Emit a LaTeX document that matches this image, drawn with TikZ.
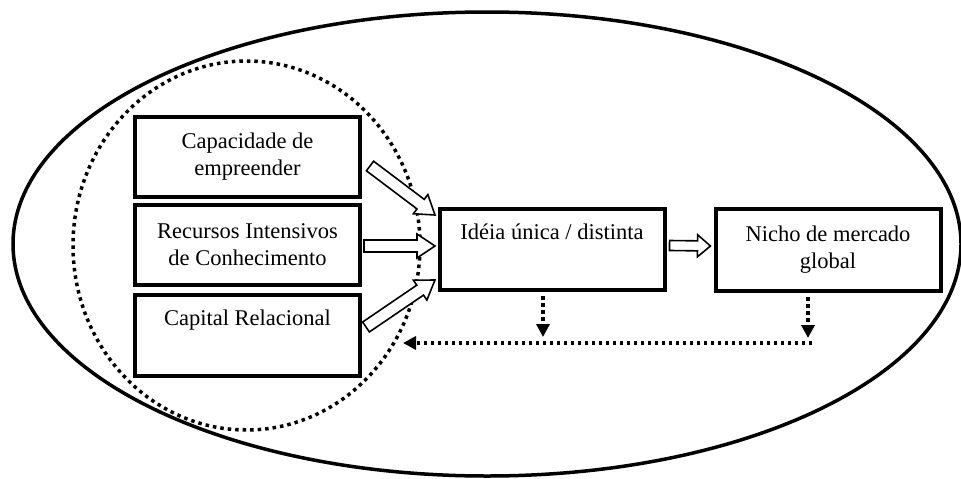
\documentclass[tikz,border=0pt]{standalone}
\usepackage{fontspec}
\setmainfont{Liberation Serif}
\usetikzlibrary{calc,arrows.meta}
\newcommand{\blockarr}[6]{%
  \coordinate (#1h) at ($(#3)!#6!(#2)$);
  \draw[blockline] ($(#2)!#4!90:(#3)$) -- ($(#1h)!#4!-90:(#2)$) -- ($(#1h)!#5!-90:(#2)$) -- (#3)
    -- ($(#1h)!#5!90:(#2)$) -- ($(#1h)!#4!90:(#2)$) -- ($(#2)!#4!-90:(#3)$) -- cycle;}
\begin{document}
\begin{tikzpicture}[x=1pt,y=-1pt,
  box/.style={draw, line width=4pt, fill=white, minimum width=225pt, minimum height=80pt,
    inner sep=0pt, align=center, font=\fontsize{22.5}{27}\selectfont},
  blockline/.style={draw, fill=white, line width=1.6pt, line join=miter},
  dotline/.style={line width=3.5pt, dash pattern=on 3.5pt off 3.5pt},
  dotarrow/.style={dotline, -{Triangle[length=13pt,width=13pt]}}]
\useasboundingbox (0,0) rectangle (961,479);
% outer ellipse and dotted ellipse
\draw[line width=3.5pt] (487,244) ellipse [x radius=474pt, y radius=232pt];
\draw[line width=3.5pt, dash pattern=on 3.5pt off 4pt] (246.5,245.5) ellipse [x radius=173.5pt, y radius=184.5pt];
% boxes
\node[box] (cap) at (247.5,157) {Capacidade de\\empreender};
\node[box] (rec) at (247.5,245) {Recursos Intensivos\\de Conhecimento};
\node[box, minimum height=81pt] (rel) at (247.5,335.5) {Capital Relacional\\\strut};
\node[box, minimum height=81pt] (mid) at (552,249.5) {Idéia única / distinta\\\strut};
\node[box, minimum height=82pt] (nic) at (828,250) {Nicho de mercado\\global};
% arrow end points
\coordinate (a1s) at (370,166);
\coordinate (a1e) at (435,215);
\coordinate (a2s) at ($(rec.east)+(2,1)$);
\coordinate (a2e) at (435,246);
\coordinate (a3s) at (366,327);
\coordinate (a3e) at (435,280);
\coordinate (a4s) at ($(mid.east)+(3,-4)$);
\coordinate (a4e) at ($(nic.west)+(-3,-4)$);
\blockarr{p1}{a1s}{a1e}{6pt}{12pt}{18pt}
\blockarr{p2}{a2s}{a2e}{6pt}{12pt}{18pt}
\blockarr{p3}{a3s}{a3e}{6pt}{12pt}{18pt}
\blockarr{p4}{a4s}{a4e}{5pt}{11pt}{13pt}
% dotted feedback
\coordinate (d1) at ($(mid.south)+(-9,4)$);
\coordinate (d1e) at ($(mid.south)+(-9,45)$);
\coordinate (d2) at ($(nic.south)+(-20,4)$);
\coordinate (d2e) at ($(nic.south)+(-20,45)$);
\coordinate (hr) at (812,343);
\coordinate (hl) at (403,343);
\draw[dotarrow] (d1) -- (d1e);
\draw[dotarrow] (d2) -- (d2e);
\draw[dotarrow] (hr) -- (hl);
\end{tikzpicture}
\end{document}
